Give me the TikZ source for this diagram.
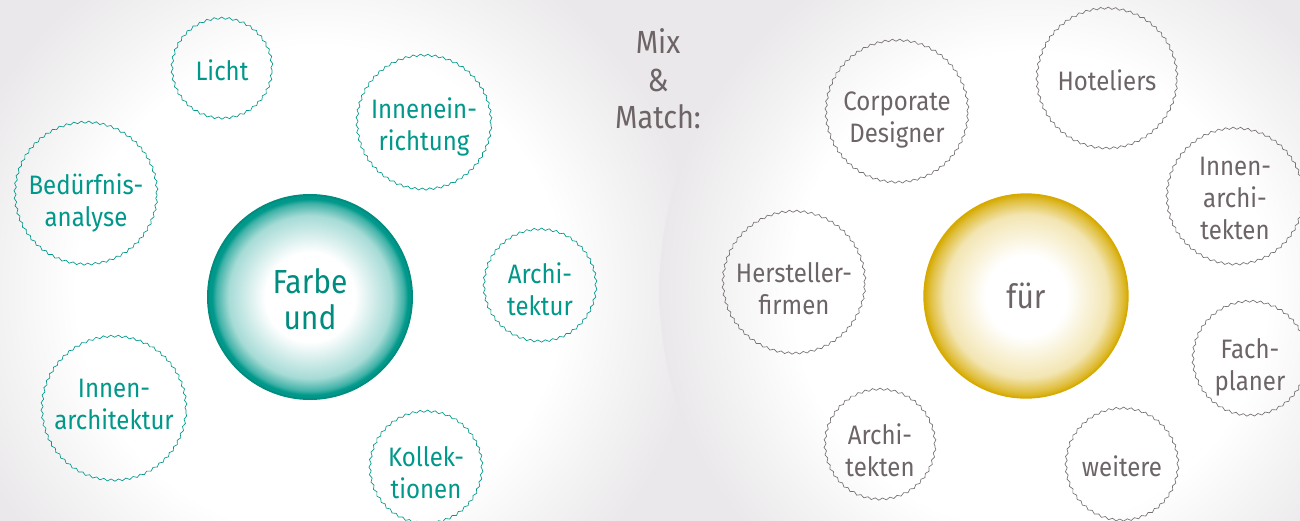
\documentclass[tikz,border=0pt]{standalone}
\usepackage{fontspec}
\setmainfont[FakeStretch=0.9]{Fira Sans}
\usetikzlibrary{decorations.pathmorphing}

\definecolor{farbteal}{RGB}{0,152,138}
\definecolor{farbtealdark}{RGB}{0,140,126}
\definecolor{fuergold}{RGB}{214,170,0}
\definecolor{textgray}{RGB}{108,100,102}
\definecolor{wavegray}{RGB}{118,112,114}
\definecolor{bggray}{RGB}{234,232,234}

\pgfdeclareradialshading{glow}{\pgfpoint{0bp}{0bp}}{color(0bp)=(white); color(16bp)=(white); color(25bp)=(bggray); color(50bp)=(bggray)}
\pgfdeclareradialshading{tealball}{\pgfpoint{0bp}{0bp}}{color(0bp)=(white); color(11bp)=(white); color(20bp)=(farbteal!35!white); color(23bp)=(farbteal!75!white); color(24bp)=(farbteal); color(50bp)=(farbteal)}
\pgfdeclareradialshading{goldball}{\pgfpoint{0bp}{0bp}}{color(0bp)=(white); color(10bp)=(white); color(20bp)=(fuergold!30!white); color(23.5bp)=(fuergold!75!white); color(25bp)=(fuergold); color(50bp)=(fuergold)}

\begin{document}
\begin{tikzpicture}[x=0.75pt,y=0.75pt,yscale=-1,xscale=1,
	wavy/.style={circle, line width=0.5pt, inner sep=0pt, align=center, decorate, decoration={snake, amplitude=0.8pt, segment length=5.6pt}, font=\fontsize{20}{24}\selectfont},
	wavyteal/.style={wavy, draw=farbteal, text=farbteal},
	wavygray/.style={wavy, draw=wavegray, text=textgray},
	ball/.style={circle, shade, inner sep=0pt, align=center, minimum size=153pt, font=\fontsize{25}{27}\selectfont},
	textdown/.style={execute at begin node={\rule{0pt}{#1}}},
	textup/.style={execute at end node={\rule[-#1]{0pt}{#1}}}]
	
	% Background
	\useasboundingbox (0,0) rectangle (1300,521);
	\clip (0,0) rectangle (1300,521);
	\fill [bggray] (0,0) rectangle (1300,521);
	\shade [shading=glow] (320,290) circle (285pt);
	\shade [shading=glow] (1030,290) circle (278pt);
	
	% Mix and Match
	\node [text=textgray, align=center, font=\fontsize{24}{28}\selectfont] (mix) at (658,79) {Mix\\\&\\Match:};
	
	% Farbe und
	\node [ball, shading=tealball, draw=farbtealdark, line width=1.5pt, text=farbtealdark, textdown=49.5pt] (farbe) at (310,297) {Farbe\\und};
	\node [wavyteal, minimum size=75pt] (licht) at (222,70) {Licht};
	\node [wavyteal, minimum size=100.5pt, textdown=43.5pt] (inneneinr) at (424,124) {Innenein-\\richtung};
	\node [wavyteal, minimum size=106.5pt, textdown=51pt] (bedarf) at (86,195) {Bedürfnis-\\analyse};
	\node [wavyteal, minimum size=84pt, textdown=43.5pt] (archtektur) at (540,287) {Archi-\\tektur};
	\node [wavyteal, minimum size=108pt, textup=9pt] (innenarch) at (114,410) {Innen-\\architektur};
	\node [wavyteal, minimum size=84pt, textdown=45pt] (kollek) at (426,469) {Kollek-\\tionen};
	
	% fuer
	\node [ball, shading=goldball, draw=fuergold, line width=1pt, text=textgray] (fuer) at (1026,296) {für};
	\node [wavygray, minimum size=106.5pt, textdown=48pt] (corporate) at (897,113) {Corporate\\Designer};
	\node [wavygray, minimum size=105pt] (hotel) at (1107,80) {Hoteliers};
	\node [wavygray, minimum size=102pt] (innenarchi) at (1235,198) {Innen-\\archi-\\tekten};
	\node [wavygray, minimum size=106.5pt, textdown=46.5pt] (hersteller) at (794,284) {Hersteller-\\firmen};
	\node [wavygray, minimum size=85.5pt, textdown=49.5pt] (fachpl) at (1250,360) {Fach-\\planer};
	\node [wavygray, minimum size=82.5pt, textdown=46.5pt] (archtekten) at (880,446) {Archi-\\tekten};
	\node [wavygray, minimum size=84pt] (weitere) at (1122,466) {weitere};
	
\end{tikzpicture}
\end{document}
